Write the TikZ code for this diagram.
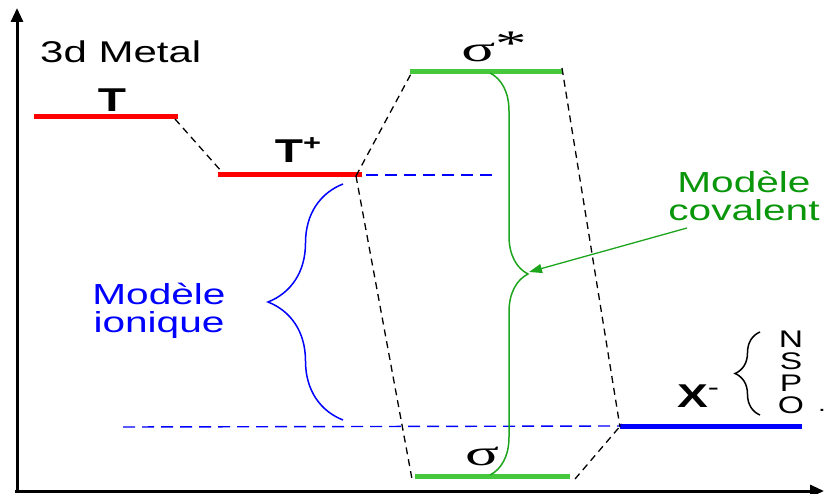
\documentclass[tikz,border=0pt]{standalone}
\usepackage{fontspec}
\setmainfont{Liberation Sans}[FakeStretch=1.4]
\newfontfamily\greekfont{Liberation Serif}[FakeStretch=1.75]
\usetikzlibrary{arrows.meta,decorations.pathreplacing}

\definecolor{lvlgreen}{RGB}{70,200,60}
\definecolor{bracegreen}{RGB}{30,165,30}
\definecolor{txtgreen}{RGB}{10,150,10}

\begin{document}
\begin{tikzpicture}[
  x=1pt, y=-1pt,
  level/.style={line width=5pt},
  link/.style={black, dash pattern=on 7pt off 5pt, line width=1.3pt},
  ref/.style={blue, dash pattern=on 12pt off 7pt, line width=1.4pt},
  axis/.style={line width=3pt, -{Triangle[length=14pt,width=12pt]}},
  curly/.style={decorate, decoration={brace, amplitude=#1}, line width=1.5pt},
  big/.style={inner sep=0pt, font=\fontsize{30}{30}\selectfont},
  lbl/.style={inner sep=0pt, anchor=base, font=\fontsize{33}{33}\selectfont\bfseries},
  greek/.style={inner sep=0pt, anchor=base, font=\fontsize{36}{36}\selectfont\greekfont},
  model/.style={inner sep=0pt, align=center, font=\fontsize{29}{28.5}\selectfont}
]
\useasboundingbox (0,0) rectangle (825,494);

% axes
\coordinate (origin) at (17,491);
\coordinate (ytop) at (17,8);
\coordinate (xend) at (824,491);
\draw[axis] (origin) -- (ytop);
\draw[axis] ([xshift=-2pt]origin) -- (xend);

% levels
\coordinate (T-w) at (34,117);   \coordinate (T-e) at (178,117);
\coordinate (Tp-w) at (218,175); \coordinate (Tp-e) at (362,175);
\coordinate (ss-w) at (410,72);  \coordinate (ss-e) at (562,72);
\coordinate (s-w) at (415,476);  \coordinate (s-e) at (570,476);
\coordinate (X-w) at (620,426);  \coordinate (X-e) at (802,426);

\draw[level, red] (T-w) -- (T-e);
\draw[level, red] (Tp-w) -- (Tp-e);
\draw[level, lvlgreen] (ss-w) -- (ss-e);
\draw[level, lvlgreen] (s-w) -- (s-e);
\draw[level, blue] (X-w) -- (X-e);

\node[big, anchor=base west] (metal) at (40,63) {3d Metal};
\node[lbl] (Tlbl) at (112,112) {T};
\node[lbl] (Tplbl) at (298,163) {T\raisebox{12pt}{\fontsize{22}{22}\selectfont +}};
\node[greek] (sslbl) at (494,62) {σ\raisebox{6pt}{*}};
\node[greek] (slbl) at (482,465) {σ};
\node[lbl] (Xlbl) at (698,407) {X\raisebox{12pt}{\fontsize{24}{24}\selectfont\mdseries -}};

% reference lines
\coordinate (ionend) at (492,175);
\coordinate (anionstart) at (123,427);
\draw[ref] ([xshift=4pt]Tp-e) -- (ionend);
\draw[ref] (anionstart) -- (X-w);

% correlations
\draw[link] ([xshift=-3pt,yshift=-2pt]T-e) -- ([xshift=4pt,yshift=3pt]Tp-w);
\draw[link] ([xshift=-6pt,yshift=-1pt]Tp-e) -- ([xshift=2pt]ss-w);
\draw[link] ([xshift=-6pt,yshift=-1pt]Tp-e) -- ([xshift=-3pt,yshift=-3pt]s-w);
\draw[link] ([yshift=4pt]ss-e) -- ([yshift=-1pt]X-w);
\draw[link] ([xshift=5pt,yshift=-3pt]s-e) -- ([xshift=2pt,yshift=2pt]X-w);

% models
\draw[curly=75pt, blue] (343,420) -- (343,184);
\node[model, text=blue] (ionic) at (159,311) {Modèle\\ionique};

\draw[curly=38pt, bracegreen] (490,73) -- (490,475);
\coordinate (bracetip) at (529,272);
\node[model, text=txtgreen] (covalent) at (744,196) {Modèle\\covalent};
\coordinate (covtail) at (687,228);
\draw[bracegreen, line width=1.3pt, -{Triangle[length=13pt,width=9pt]}] (covtail) -- (bracetip);

% anion choices
\draw[curly=25pt, black] (760,415) -- (760,332);
\node[inner sep=0pt, align=center, font=\fontsize{24}{22}\selectfont] (anions) at (791,372) {N\\S\\P\\O};
\node[inner sep=0pt, font=\fontsize{20}{20}\selectfont] (dot) at (822,410) {.};
\end{tikzpicture}
\end{document}
